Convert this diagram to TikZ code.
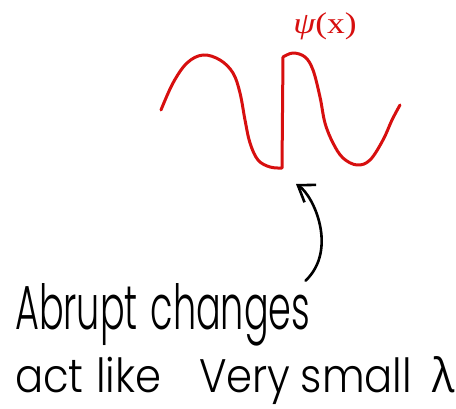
\documentclass[tikz,border=0pt]{standalone}
\usepackage{fontspec}
\usepackage{graphicx}
\newfontfamily\hand{Poppins Light}
\newfontfamily\greekhand{Open Sans}
\newfontfamily\labelserif{Liberation Serif}
\usetikzlibrary{arrows.meta}
\definecolor{wavered}{RGB}{215,15,15}
\tikzset{
  wave/.style={draw=wavered, line width=3pt, line cap=round, line join=round},
  pointer/.style={draw=black, line width=2.6pt, line cap=round,
    -{Straight Barb[length=15pt,width=21pt,line width=2.6pt]}},
  handtext/.style={anchor=base west, inner sep=0pt, text=black}
}
\begin{document}
\begin{tikzpicture}[x=1pt,y=-1pt]
\useasboundingbox (0,0) rectangle (456,409);
% wave
\draw[wave] plot[smooth, tension=0.6] coordinates {
  (161,110) (173,83) (187,63) (203,55) (220,60) (233,73) (240,93)
  (245,120) (250,143) (258,160) (270,167) (282,168)}
  -- (283,57)
  plot[smooth, tension=0.6] coordinates {
  (283,57) (293,53) (305,57) (313,70) (320,97) (325,123) (333,143)
  (343,158) (357,165) (370,160) (383,140) (392,120) (400,105)};
% label
\node[text=wavered, inner sep=0pt, anchor=base] (psi) at (325,34)
  {\scalebox{1.18}[1]{\fontsize{30}{32}\selectfont\labelserif{\itshape ψ}(x)}};
% text
\node[handtext] (l1) at (15,330)
  {\resizebox{295pt}{46pt}{\hand Abrupt\hspace{0.35em}changes}};
\node[handtext] (l2) at (15,392)
  {\resizebox{440pt}{36pt}{\hand act\hspace{0.3em}like\hspace{0.9em}Very\hspace{0.25em}small\hspace{0.5em}{\greekhand λ}}};
% arrow
\coordinate (tip) at (296,184);
\draw[pointer] ([shift={(-5,-3)}]l1.north east) .. controls (338,250) and (314,196) .. (tip);
\end{tikzpicture}
\end{document}
